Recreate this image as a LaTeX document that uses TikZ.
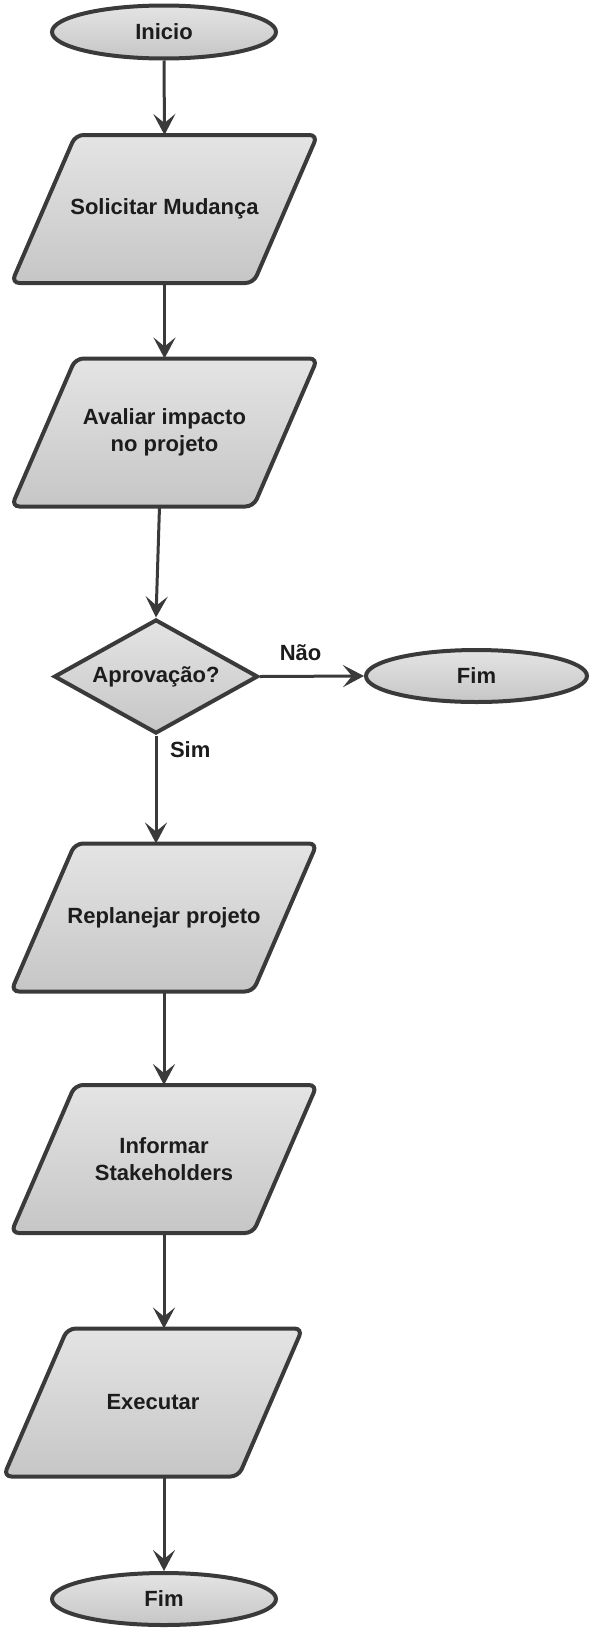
\documentclass[tikz,border=0pt]{standalone}
\usepackage{fontspec}
\setmainfont{Liberation Sans}
\usetikzlibrary{shapes.geometric, arrows.meta, backgrounds}

\definecolor{borda}{RGB}{58,58,58}
\definecolor{fundoTopo}{RGB}{228,228,228}
\definecolor{fundoBase}{RGB}{198,198,198}
\definecolor{texto}{RGB}{28,28,28}

\begin{document}
\begin{tikzpicture}[x = 1pt, y = -1pt,
		base/.style = {line width = 4pt, inner sep = 0pt, text = texto, font = {\bfseries\fontsize{22}{27}\selectfont}},
		forma/.style = {base, draw = borda, top color = fundoTopo, bottom color = fundoBase},
		terminal/.style = {forma, ellipse, minimum width = 224pt, minimum height = 53pt},
		processo/.style = {base, rectangle, minimum width = 238pt, minimum height = 144pt, align = center},
		caixa/.style = {draw = borda, line width = 4pt, top color = fundoTopo, bottom color = fundoBase, rounded corners = 8pt},
		decisao/.style = {forma, diamond, aspect = 1.8, minimum width = 204pt, minimum height = 114pt},
		fluxo/.style = {draw = borda, line width = 3pt, -{Stealth[length = 21pt, width = 22pt, inset = 9pt]}},
		rotulo/.style = {base}]
	\useasboundingbox (0, 0) rectangle (590, 1630);

	\node[terminal] (inicio) at (164, 32) {Inicio};
	\node[processo] (solicitar) at (164.5, 209) {Solicitar Mudança};
	\node[processo] (avaliar) at (164.5, 432.5) {Avaliar impacto\\no projeto};
	\node[decisao] (aprov) at (156, 676.5) {Aprovação?};
	\node[terminal, minimum width = 221pt, minimum height = 52pt] (fimNao) at (476.5, 676) {Fim};
	\node[processo] (replanejar) at (164, 917.5) {Replanejar projeto};
	\node[processo] (informar) at (164, 1159) {Informar\\Stakeholders};
	\node[processo, minimum width = 231pt] (executar) at (153, 1402.5) {Executar};
	\node[terminal, minimum height = 52pt] (fim) at (164, 1599) {Fim};

	% paralelogramos por baixo do texto
	\begin{pgfonlayer}{background}
		\foreach \caixaNome in {solicitar, avaliar, replanejar, informar, executar}
			\draw[caixa] ([xshift = 32pt] \caixaNome.north west) -- ([xshift = 32pt] \caixaNome.north east) -- ([xshift = -32pt] \caixaNome.south east) -- ([xshift = -32pt] \caixaNome.south west) -- cycle;
	\end{pgfonlayer}

	\draw[fluxo] (inicio.south) -- (solicitar.north);
	\draw[fluxo] (solicitar.south) -- (avaliar.north);
	\draw[fluxo] ([xshift = -5pt] avaliar.south) -- (aprov.north);
	\draw[fluxo] (aprov.east) -- (fimNao.west) node[rotulo, pos = 0.39, above = 14pt] (nao) {Não};
	\draw[fluxo] (aprov.south) -- (aprov.south |- replanejar.north) node[rotulo, pos = 0.13, right = 12pt] (sim) {Sim};
	\draw[fluxo] (replanejar.south) -- (informar.north);
	\draw[fluxo] (informar.south) -- (informar.south |- executar.north);
	\draw[fluxo] (executar.south -| fim.north) -- (fim.north);
\end{tikzpicture}
\end{document}
